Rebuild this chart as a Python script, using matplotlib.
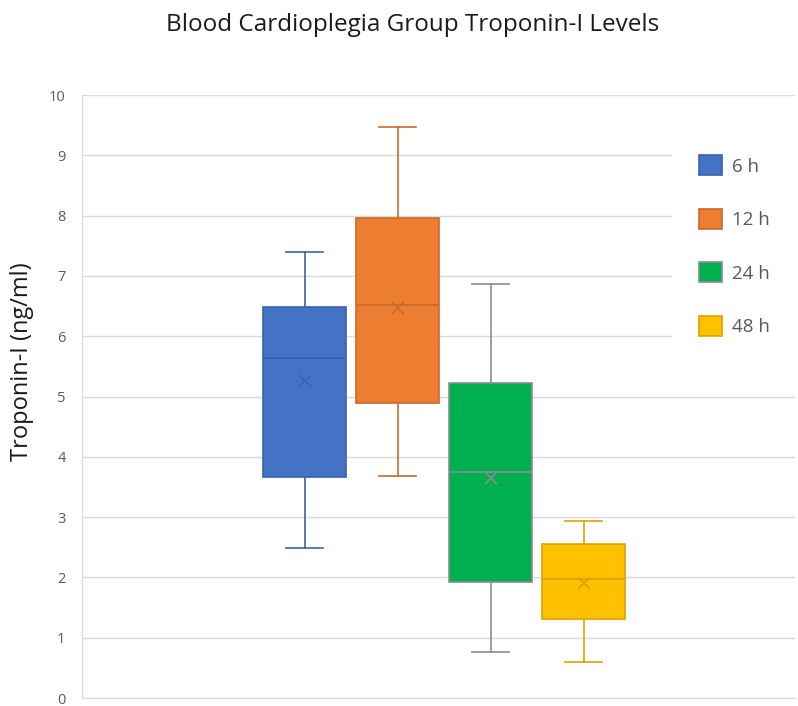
import matplotlib.pyplot as plt
from matplotlib.patches import Patch

# values (ng/ml)
groups = ["6 h", "12 h", "24 h", "48 h"]
whisker_low = [2.49, 3.68, 0.76, 0.60]
q1 = [3.66, 4.89, 1.92, 1.31]
median = [5.64, 6.52, 3.75, 1.97]
mean = [5.26, 6.47, 3.65, 1.91]
q3 = [6.48, 7.96, 5.22, 2.55]
whisker_high = [7.40, 9.47, 6.87, 2.94]

fills = ["#4472C4", "#ED7D31", "#00B050", "#FFC000"]
edges = ["#3A62AB", "#C9692A", "#8C8C8C", "#D9A300"]

fig = plt.figure(figsize=(7.98, 7.06), dpi=100)
ax = fig.add_axes([0.103, 0.0113, 0.893, 0.8541])

positions = [1, 2, 3, 4]
for i, pos in enumerate(positions):
    stats = [{
        "whislo": whisker_low[i], "q1": q1[i], "med": median[i],
        "mean": mean[i], "q3": q3[i], "whishi": whisker_high[i],
    }]
    ax.bxp(stats, positions=[pos], widths=0.9, showmeans=True,
           patch_artist=True, showfliers=False,
           boxprops=dict(facecolor=fills[i], edgecolor=edges[i], linewidth=1.2),
           medianprops=dict(color=edges[i], linewidth=1.2),
           whiskerprops=dict(color=edges[i], linewidth=1.2),
           capprops=dict(color=edges[i], linewidth=1.2),
           capwidths=0.4,
           meanprops=dict(marker="x", markeredgecolor=edges[i],
                          markersize=9, markeredgewidth=1.2))

ax.set_xlim(-1.39, 6.27)
ax.set_ylim(0, 10)
ax.set_yticks(range(0, 11))
ax.set_xticks([])
ax.yaxis.grid(True, color="#D9D9D9", linewidth=1)
ax.set_axisbelow(True)
for side in ["top", "right"]:
    ax.spines[side].set_visible(False)
for side in ["left", "bottom"]:
    ax.spines[side].set_color("#D9D9D9")
ax.tick_params(axis="y", length=0, pad=12, labelsize=10.5, labelcolor="#595959")
for lbl in ax.get_yticklabels():
    lbl.set_family("Open Sans")

fig.text(22 / 798, 1 - 362 / 706, "Troponin-I (ng/ml)", rotation=90,
         ha="center", va="center", fontsize=17, family="Open Sans",
         color="#1A1A1A")
fig.text(0.517, 0.965, "Blood Cardioplegia Group Troponin-I Levels",
         ha="center", va="center", fontsize=17.5, family="Open Sans",
         color="#1A1A1A")

handles = [Patch(facecolor=fills[i], edgecolor=edges[i], linewidth=1.2)
           for i in range(len(groups))]
leg = ax.legend(handles, groups, loc="upper left",
                bbox_to_anchor=(0.8275, 0.945), frameon=True, fancybox=False,
                edgecolor="white", framealpha=1, fontsize=13.5,
                handlelength=1.24, handleheight=1.24, labelspacing=1.78,
                handletextpad=0.53, borderpad=1.45, borderaxespad=0)
for t in leg.get_texts():
    t.set_color("#595959")
    t.set_family("Open Sans")

plt.savefig("out.png", dpi=100)
